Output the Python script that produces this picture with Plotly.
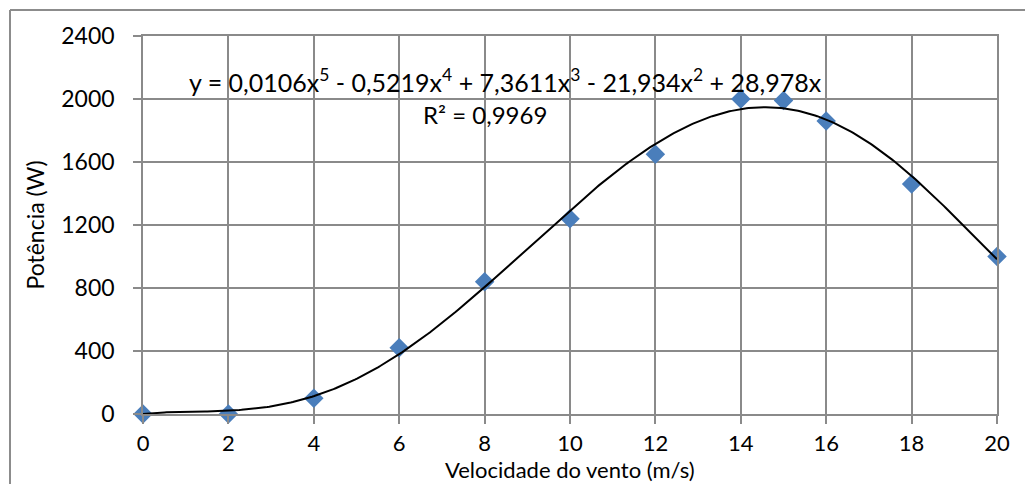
import numpy as np
import plotly.graph_objects as go

# Measured wind speed (m/s) and power output (W)
speed = [0, 2, 4, 6, 8, 10, 12, 14, 15, 16, 18, 20]
power = [0, 0, 100, 420, 840, 1240, 1650, 2000, 1990, 1860, 1460, 1000]

# Displayed trendline equation (5th order, zero intercept) and its R²
eq_label = ("y = 0,0106x<sup>5</sup> - 0,5219x<sup>4</sup> + 7,3611x<sup>3</sup>"
            " - 21,934x<sup>2</sup> + 28,978x")
r2_label = "R² = 0,9969"

x_ticks = list(range(0, 21, 2))
y_ticks = list(range(0, 2401, 400))

FONT = "Lato, 'Open Sans', sans-serif"
GRID = "#8a8a8a"

# Least-squares polynomial trendline through the origin (degree 5)
sx = np.asarray(speed, dtype=float)
sy = np.asarray(power, dtype=float)
design = np.column_stack([sx ** k for k in range(5, 0, -1)])
coefs, *_ = np.linalg.lstsq(design, sy, rcond=None)
xs = np.linspace(0, 20, 400)
ys = np.polyval(np.append(coefs, 0.0), xs)

fig = go.Figure()
fig.add_trace(go.Scatter(
    x=speed, y=power, mode="markers",
    marker=dict(symbol="diamond", size=15, color="#4a7ebb", line=dict(width=0)),
    showlegend=False, cliponaxis=False,
))
fig.add_trace(go.Scatter(
    x=xs, y=ys, mode="lines",
    line=dict(color="black", width=2),
    showlegend=False, cliponaxis=False,
))

fig.add_annotation(x=1.03, y=2120, xref="x", yref="y", text=eq_label,
                   showarrow=False, xanchor="left", yanchor="middle",
                   font=dict(family=FONT, size=25, color="black"))
fig.add_annotation(x=6.5, y=1900, xref="x", yref="y", text=r2_label,
                   showarrow=False, xanchor="left", yanchor="middle",
                   font=dict(family=FONT, size=24, color="black"))

# X-axis title, placed just under the tick labels
fig.add_annotation(x=0.5, y=(414 - 469) / 378, xref="paper", yref="paper",
                   text="Velocidade do vento (m/s)", showarrow=False,
                   xanchor="center", yanchor="middle", borderpad=0,
                   font=dict(family=FONT, size=22, color="black"))

# Chart-area frame (top and left edges)
fx = (10 - 143) / 854
fy = (414 - 10) / 378
fig.add_shape(type="line", xref="paper", yref="paper",
              x0=fx, x1=1.05, y0=fy, y1=fy,
              line=dict(color="#8c8c8c", width=2))
fig.add_shape(type="line", xref="paper", yref="paper",
              x0=fx, x1=fx, y0=fy, y1=-0.3,
              line=dict(color="#8c8c8c", width=2))

fig.update_xaxes(
    range=[0, 20], tickvals=x_ticks, ticktext=[str(v) for v in x_ticks],
    showgrid=True, gridcolor=GRID, gridwidth=1.5,
    showline=True, linecolor=GRID, linewidth=1.5, mirror=True,
    ticks="outside", ticklen=8, tickcolor=GRID, tickwidth=1.5,
    ticklabelstandoff=1, zeroline=False,
    tickfont=dict(family=FONT, size=22, color="black"),
)
fig.update_yaxes(
    range=[0, 2400], tickvals=y_ticks, ticktext=[str(v) for v in y_ticks],
    showgrid=True, gridcolor=GRID, gridwidth=1.5,
    showline=True, linecolor=GRID, linewidth=1.5, mirror=True,
    ticks="outside", ticklen=8, tickcolor=GRID, tickwidth=1.5,
    ticklabelstandoff=14, zeroline=False,
    tickfont=dict(family=FONT, size=23, color="black"),
    title=dict(text="Potência (W)", standoff=10,
               font=dict(family=FONT, size=23, color="black")),
)

fig.update_layout(
    width=1025, height=484,
    margin=dict(l=143, r=28, t=36, b=70, autoexpand=False),
    paper_bgcolor="white", plot_bgcolor="white",
)

fig.write_html("out.html")
